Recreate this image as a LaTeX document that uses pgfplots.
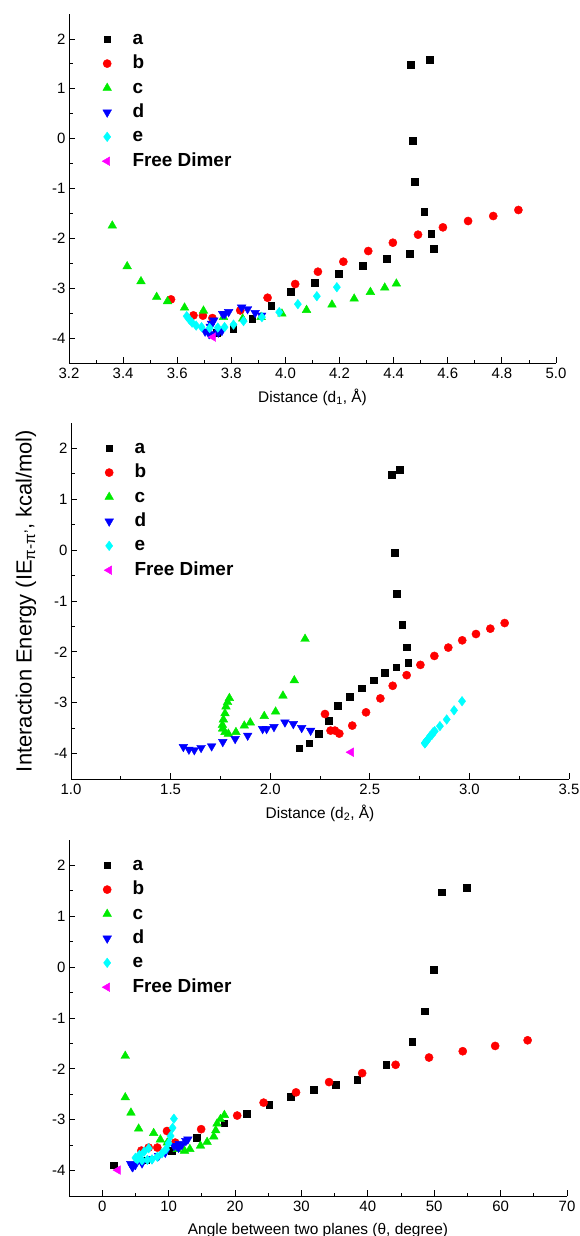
\documentclass[border=0pt]{standalone}
\usepackage{pgfplots}
\pgfplotsset{compat=1.18}
\usepackage{fontspec}
\setmainfont{Liberation Sans}
\definecolor{cgreen}{RGB}{0,235,0}
\definecolor{cblue}{RGB}{0,0,255}
\definecolor{ccyan}{RGB}{0,255,255}
\definecolor{cmag}{RGB}{255,0,255}
\definecolor{cred}{RGB}{255,0,0}
\pgfplotsset{
 myax/.style={
  scale only axis,
  axis x line*=bottom, axis y line*=left,
  axis line style={line width=1bp, -},
  tick align=inside,
  major tick length=6bp, minor tick length=3.5bp,
  every tick/.style={black, line width=0.8bp},
  ymin=-4.5, ymax=2.5, ytick={-4,-3,-2,-1,0,1,2}, minor y tick num=1,
  minor x tick num=1,
  tick label style={font=\fontsize{15}{18}\selectfont},
  xticklabel style={yshift=-2bp},
  /pgf/number format/assume math mode=true,
  xlabel style={font=\fontsize{15.5}{18}\selectfont, at={(axis description cs:0.5,0)}, anchor=center, yshift=-34bp},
  legend style={draw=none, fill=none, at={(0,1)}, anchor=north west, xshift=30bp, yshift=-12bp,
     font=\fontsize{19}{22}\selectfont\bfseries, row sep=2.4bp, column sep=19bp,
     nodes={inner sep=2bp, text height=14bp, text depth=4bp}},
  legend cell align=left,
 },
 sA/.style={only marks, mark=square*, mark size=3.4bp, color=black},
 sB/.style={only marks, mark=*, mark size=4.1bp, color=cred},
 sC/.style={only marks, mark=triangle*, mark size=5bp, color=cgreen},
 sD/.style={only marks, mark=triangle*, mark size=5bp, color=cblue, mark options={rotate=180}},
 sE/.style={only marks, mark=diamond*, mark size=4.8bp, color=ccyan},
 sF/.style={only marks, mark=triangle*, mark size=5bp, color=cmag, mark options={rotate=90}},
}
\begin{document}
\begin{tikzpicture}
\useasboundingbox (0,0) rectangle (580bp,-1236bp);
% ---------------- Panel 1 ----------------
\begin{axis}[myax, at={(69bp,-363bp)}, anchor=south west, width=487bp, height=349bp,
  xmin=3.2, xmax=5.0, xtick={3.2,3.4,3.6,3.8,4.0,4.2,4.4,4.6,4.8,5.0},
  xticklabel style={/pgf/number format/fixed, /pgf/number format/fixed zerofill, /pgf/number format/precision=1},
  xlabel={Distance (d\textsubscript{1}, Å)}]
\addplot[sA] coordinates {(4.464,1.485)(4.534,1.585)(4.471,-0.04)(4.479,-0.863)(4.513,-1.472)(4.539,-1.913)(4.548,-2.214)(4.458,-2.308)(4.373,-2.415)(4.285,-2.555)(4.198,-2.716)(4.108,-2.890)(4.019,-3.07)(3.947,-3.358)(3.877,-3.612)(3.807,-3.806)(3.745,-3.894)};
\addlegendentry{a}
\addplot[sB] coordinates {(4.861,-1.431)(4.768,-1.552)(4.675,-1.652)(4.582,-1.779)(4.490,-1.926)(4.397,-2.087)(4.306,-2.254)(4.214,-2.468)(4.120,-2.669)(4.036,-2.916)(3.934,-3.191)(3.833,-3.445)(3.730,-3.599)(3.695,-3.55)(3.660,-3.545)(3.577,-3.224)};
\addlegendentry{b}
\addplot[sC] coordinates {(3.360,-1.746)(3.415,-2.562)(3.466,-2.863)(3.524,-3.177)(3.564,-3.264)(3.627,-3.391)(3.697,-3.452)(3.771,-3.579)(3.842,-3.612)(3.910,-3.579)(3.987,-3.512)(4.078,-3.438)(4.172,-3.331)(4.254,-3.211)(4.314,-3.077)(4.367,-2.990)(4.410,-2.910)};
\addlegendentry{c}
\addplot[sD] coordinates {(3.703,-3.867)(3.718,-3.92)(3.735,-3.93)(3.752,-3.886)(3.765,-3.855)(3.722,-3.77)(3.727,-3.71)(3.735,-3.645)(3.768,-3.514)(3.776,-3.514)(3.790,-3.475)(3.838,-3.385)(3.860,-3.417)(3.888,-3.494)(3.912,-3.547)};
\addlegendentry{d}
\addplot[sE] coordinates {(3.635,-3.56)(3.645,-3.63)(3.655,-3.69)(3.670,-3.75)(3.690,-3.78)(3.720,-3.80)(3.750,-3.79)(3.775,-3.78)(3.808,-3.73)(3.845,-3.66)(3.913,-3.58)(3.977,-3.48)(4.046,-3.32)(4.116,-3.16)(4.190,-2.98)};
\addlegendentry{e}
\addplot[sF] coordinates {(3.733,-3.98)};
\addlegendentry{Free Dimer}
\end{axis}
% ---------------- Panel 2 ----------------
\begin{axis}[myax, at={(71bp,-779bp)}, anchor=south west, width=498bp, height=356bp,
  xmin=1.0, xmax=3.5, xtick={1.0,1.5,2.0,2.5,3.0,3.5},
  xticklabel style={/pgf/number format/fixed, /pgf/number format/fixed zerofill, /pgf/number format/precision=1},
  xlabel={Distance (d\textsubscript{2}, Å)},
  ylabel={Interaction Energy (IE\textsubscript{π-π'}, kcal/mol)},
  every axis y label/.style={at={(axis description cs:0,0.5)}, xshift=-45bp, rotate=90, anchor=center, font=\fontsize{22}{26}\selectfont}]
\addplot[sA] coordinates {(2.611,1.484)(2.652,1.582)(2.623,-0.043)(2.635,-0.859)(2.663,-1.473)(2.685,-1.910)(2.693,-2.210)(2.633,-2.302)(2.576,-2.413)(2.518,-2.556)(2.459,-2.713)(2.399,-2.883)(2.339,-3.065)(2.292,-3.352)(2.243,-3.607)(2.196,-3.796)(2.146,-3.894)};
\addlegendentry{a}
\addplot[sB] coordinates {(3.177,-1.433)(3.105,-1.544)(3.033,-1.649)(2.964,-1.773)(2.894,-1.916)(2.824,-2.080)(2.754,-2.256)(2.685,-2.458)(2.615,-2.667)(2.553,-2.915)(2.481,-3.189)(2.412,-3.450)(2.347,-3.607)(2.325,-3.548)(2.303,-3.548)(2.275,-3.222)};
\addlegendentry{b}
\addplot[sC] coordinates {(2.175,-1.746)(2.121,-2.562)(2.064,-2.863)(2.027,-3.177)(1.970,-3.264)(1.900,-3.391)(1.870,-3.452)(1.828,-3.579)(1.790,-3.612)(1.773,-3.579)(1.761,-3.512)(1.760,-3.438)(1.765,-3.331)(1.773,-3.211)(1.778,-3.077)(1.786,-2.990)(1.795,-2.910)};
\addlegendentry{c}
\addplot[sD] coordinates {(1.564,-3.867)(1.592,-3.92)(1.619,-3.93)(1.653,-3.886)(1.706,-3.855)(1.762,-3.77)(1.824,-3.71)(1.887,-3.645)(1.962,-3.514)(1.982,-3.514)(2.019,-3.475)(2.074,-3.385)(2.116,-3.417)(2.158,-3.494)(2.203,-3.547)};
\addlegendentry{d}
\addplot[sE] coordinates {(2.826,-3.56)(2.812,-3.63)(2.797,-3.69)(2.786,-3.75)(2.779,-3.78)(2.776,-3.80)(2.777,-3.79)(2.779,-3.78)(2.790,-3.73)(2.802,-3.66)(2.818,-3.58)(2.852,-3.46)(2.886,-3.33)(2.923,-3.15)(2.963,-2.97)};
\addlegendentry{e}
\addplot[sF] coordinates {(2.406,-3.973)};
\addlegendentry{Free Dimer}
\end{axis}
% ---------------- Panel 3 ----------------
\begin{axis}[myax, at={(69bp,-1196bp)}, anchor=south west, width=498bp, height=356bp,
  xmin=-5, xmax=70, xtick={0,10,20,30,40,50,60,70}, minor xtick={-5,5,15,25,35,45,55,65},
  xlabel={Angle between two planes (θ, degree)}]
\addplot[sA] coordinates {(51.18,1.472)(54.86,1.569)(49.97,-0.048)(48.57,-0.864)(46.70,-1.470)(42.78,-1.914)(38.40,-2.207)(35.13,-2.305)(31.81,-2.416)(28.43,-2.547)(25.16,-2.710)(21.79,-2.886)(18.37,-3.069)(14.24,-3.356)(10.5,-3.607)(6.5,-3.796)(1.76,-3.894)};
\addlegendentry{a}
\addplot[sB] coordinates {(64.07,-1.438)(59.18,-1.549)(54.30,-1.653)(49.22,-1.777)(44.19,-1.920)(39.15,-2.084)(34.17,-2.260)(29.19,-2.462)(24.31,-2.664)(20.33,-2.918)(14.90,-3.186)(11.0,-3.450)(5.9,-3.607)(8.3,-3.548)(7.0,-3.548)(9.76,-3.222)};
\addlegendentry{b}
\addplot[sC] coordinates {(3.47,-1.746)(3.47,-2.562)(4.33,-2.863)(5.49,-3.177)(7.75,-3.264)(8.76,-3.391)(9.8,-3.452)(11.3,-3.579)(12.4,-3.612)(13.2,-3.579)(14.8,-3.512)(15.8,-3.438)(16.8,-3.331)(17.1,-3.211)(17.3,-3.077)(17.8,-2.990)(18.4,-2.910)};
\addlegendentry{c}
\addplot[sD] coordinates {(4.3,-3.867)(4.5,-3.92)(4.6,-3.93)(5.0,-3.886)(6.0,-3.855)(7.5,-3.77)(8.5,-3.71)(9.5,-3.645)(10.8,-3.514)(11.2,-3.514)(11.6,-3.475)(12.9,-3.385)(12.6,-3.417)(12.0,-3.494)(11.5,-3.547)};
\addlegendentry{d}
\addplot[sE] coordinates {(7.0,-3.56)(6.3,-3.63)(5.6,-3.69)(5.0,-3.75)(5.3,-3.78)(6.0,-3.80)(6.8,-3.79)(7.5,-3.78)(8.3,-3.73)(9.0,-3.66)(9.6,-3.58)(10.0,-3.46)(10.3,-3.32)(10.6,-3.16)(10.8,-2.98)};
\addlegendentry{e}
\addplot[sF] coordinates {(2.37,-3.99)};
\addlegendentry{Free Dimer}
\end{axis}
\end{tikzpicture}
\end{document}
